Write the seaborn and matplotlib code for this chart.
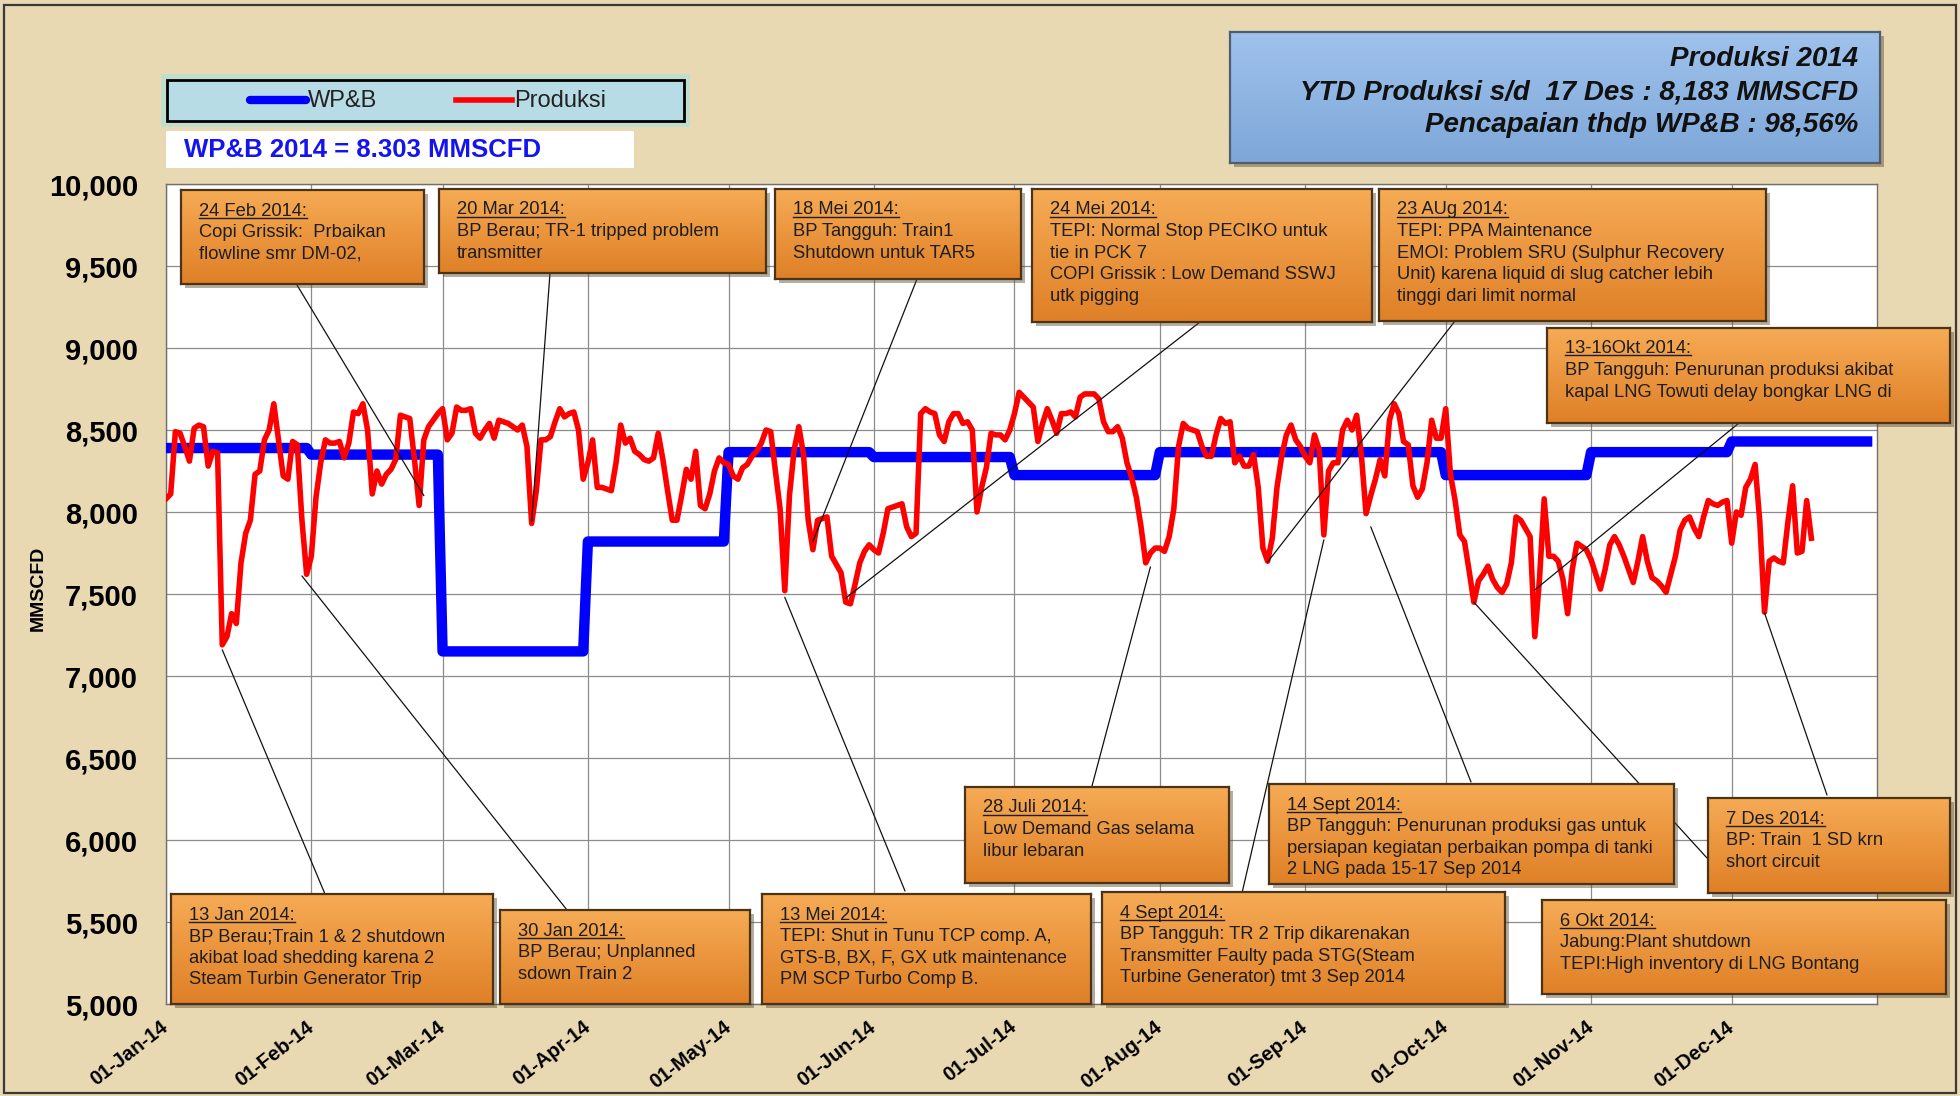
import matplotlib
matplotlib.use("Agg")
import numpy as np
import pandas as pd
import seaborn as sns
import matplotlib.pyplot as plt
import matplotlib.dates as mdates
from matplotlib.patches import Rectangle
from matplotlib.lines import Line2D
from matplotlib.colors import LinearSegmentedColormap
from matplotlib.ticker import FuncFormatter, MultipleLocator

# Produksi harian 2014 (MMSCFD), per bulan
prod_jan = [8080, 8110, 8490, 8480, 8400, 8310, 8510, 8530, 8520, 8280, 8370, 8360, 7190, 7240, 7380, 7320,
            7690, 7870, 7950, 8230, 8250, 8440, 8500, 8660, 8440, 8220, 8200, 8430, 8410, 7950, 7620]
prod_feb = [7730, 8090, 8300, 8440, 8420, 8420, 8430, 8330, 8420, 8610, 8600, 8660, 8500, 8110, 8250, 8170,
            8230, 8260, 8320, 8590, 8580, 8570, 8320, 8040, 8440, 8520, 8560, 8600]
prod_mar = [8630, 8440, 8480, 8640, 8620, 8620, 8630, 8480, 8450, 8500, 8540, 8450, 8560, 8550, 8540, 8520,
            8500, 8530, 8400, 7930, 8130, 8440, 8440, 8460, 8550, 8630, 8580, 8600, 8610, 8500, 8200]
prod_apr = [8300, 8440, 8150, 8150, 8140, 8130, 8300, 8530, 8420, 8450, 8370, 8350, 8320, 8310, 8330, 8480,
            8320, 8130, 7950, 7950, 8100, 8260, 8200, 8370, 8040, 8020, 8110, 8250, 8330, 8300]
prod_may = [8290, 8220, 8200, 8270, 8290, 8340, 8370, 8420, 8500, 8490, 8250, 8020, 7520, 8100, 8380, 8520,
            8350, 7950, 7770, 7950, 7960, 7970, 7730, 7680, 7630, 7450, 7440, 7560, 7690, 7760, 7800]
prod_jun = [7770, 7750, 7870, 8020, 8030, 8040, 8050, 7910, 7850, 7870, 8600, 8630, 8610, 8600, 8470, 8430,
            8550, 8600, 8600, 8540, 8550, 8500, 8000, 8150, 8270, 8480, 8470, 8470, 8440, 8500]
prod_jul = [8600, 8730, 8700, 8670, 8640, 8430, 8540, 8630, 8560, 8480, 8600, 8600, 8610, 8580, 8700, 8720,
            8720, 8720, 8690, 8550, 8490, 8490, 8520, 8450, 8300, 8210, 8090, 7910, 7690, 7750, 7780]
prod_aug = [7780, 7760, 7850, 8020, 8400, 8540, 8510, 8500, 8490, 8400, 8340, 8340, 8470, 8570, 8540, 8550,
            8300, 8340, 8280, 8280, 8350, 8150, 7780, 7700, 7840, 8150, 8340, 8470, 8530, 8440, 8400]
prod_sep = [8340, 8300, 8470, 8380, 7860, 8250, 8300, 8300, 8500, 8560, 8500, 8590, 8350, 7990, 8100, 8200,
            8320, 8220, 8560, 8660, 8600, 8430, 8410, 8160, 8090, 8140, 8300, 8560, 8450, 8450]
prod_oct = [8630, 8230, 8070, 7860, 7820, 7640, 7450, 7580, 7620, 7670, 7590, 7540, 7510, 7560, 7690, 7970,
            7950, 7900, 7850, 7240, 7590, 8080, 7730, 7730, 7700, 7590, 7380, 7650, 7810, 7790, 7770]
prod_nov = [7710, 7620, 7530, 7650, 7800, 7850, 7800, 7730, 7650, 7570, 7700, 7850, 7700, 7600, 7580, 7550,
            7510, 7620, 7730, 7890, 7950, 7970, 7900, 7850, 7970, 8070, 8050, 8040, 8060, 8070]
prod_dec = [7810, 8000, 7980, 8150, 8200, 8290, 7940, 7390, 7700, 7720, 7700, 7690, 7940, 8160, 7750, 7760,
            8070, 7840]

# WP&B 2014 per bulan (MMSCFD)
wpb_bulan = [8390, 8350, 7150, 7820, 8365, 8335, 8225, 8365, 8365, 8225, 8365, 8430]

legend_labels = ["WP&B", "Produksi"]
wpb_teks = "WP&B 2014 = 8.303 MMSCFD"
ringkasan = ["Produksi 2014", "YTD Produksi s/d  17 Des : 8,183 MMSCFD", "Pencapaian thdp WP&B : 98,56%"]

# catatan: (kotak x0, y0, x1, y1 dlm piksel), titik awal garis, tanggal & nilai target, teks
catatan = [
    ((181, 190, 424, 284), (297, 285), "2014-02-25", 8100, ["24 Feb 2014:", "Copi Grissik:  Prbaikan", "flowline smr DM-02,"]),
    ((439, 189, 766, 273), (550, 273), "2014-03-20", 7940, ["20 Mar 2014:", "BP Berau; TR-1 tripped problem", "transmitter"]),
    ((775, 189, 1021, 279), (917, 279), "2014-05-19", 7820, ["18 Mei 2014:", "BP Tangguh: Train1", "Shutdown untuk TAR5"]),
    ((1032, 189, 1372, 322), (1200, 322), "2014-05-26", 7475, ["24 Mei 2014:", "TEPI: Normal Stop PECIKO untuk", "tie in PCK 7",
                                                               "COPI Grissik : Low Demand SSWJ", "utk pigging"]),
    ((1379, 189, 1766, 321), (1455, 321), "2014-08-24", 7695, ["23 AUg 2014:", "TEPI: PPA Maintenance",
                                                               "EMOI: Problem SRU (Sulphur Recovery",
                                                               "Unit) karena liquid di slug catcher lebih",
                                                               "tinggi dari limit normal"]),
    ((1547, 328, 1950, 423), (1739, 423), "2014-10-20", 7525, ["13-16Okt 2014:", "BP Tangguh: Penurunan produksi akibat",
                                                               "kapal LNG Towuti delay bongkar LNG di"]),
    ((171, 894, 493, 1004), (325, 894), "2014-01-13", 7160, ["13 Jan 2014:", "BP Berau;Train 1 & 2 shutdown",
                                                             "akibat load shedding karena 2", "Steam Turbin Generator Trip"]),
    ((500, 910, 750, 1004), (567, 910), "2014-01-30", 7610, ["30 Jan 2014:", "BP Berau; Unplanned", "sdown Train 2"]),
    ((762, 894, 1091, 1004), (905, 891), "2014-05-13", 7480, ["13 Mei 2014:", "TEPI: Shut in Tunu TCP comp. A,",
                                                              "GTS-B, BX, F, GX utk maintenance", "PM SCP Turbo Comp B."]),
    ((965, 787, 1229, 883), (1092, 786), "2014-07-30", 7665, ["28 Juli 2014:", "Low Demand Gas selama", "libur lebaran"]),
    ((1102, 892, 1505, 1004), (1242, 893), "2014-09-05", 7830, ["4 Sept 2014:", "BP Tangguh: TR 2 Trip dikarenakan",
                                                                "Transmitter Faulty pada STG(Steam",
                                                                "Turbine Generator) tmt 3 Sep 2014"]),
    ((1269, 784, 1674, 884), (1471, 782), "2014-09-15", 7910, ["14 Sept 2014:", "BP Tangguh: Penurunan produksi gas untuk",
                                                               "persiapan kegiatan perbaikan pompa di tanki",
                                                               "2 LNG pada 15-17 Sep 2014"]),
    ((1542, 900, 1946, 994), (1707, 858), "2014-10-07", 7450, ["6 Okt 2014:", "Jabung:Plant shutdown",
                                                               "TEPI:High inventory di LNG Bontang"]),
    ((1708, 798, 1950, 893), (1827, 795), "2014-12-08", 7385, ["7 Des 2014:", "BP: Train  1 SD krn", "short circuit"]),
]

W, H = 1960, 1096
BG = "#e9d9b3"
plt.rcParams["font.family"] = ["Liberation Sans", "DejaVu Sans"]
NARROW = ["Liberation Sans Narrow", "Liberation Sans", "DejaVu Sans"]


def fx(px):
    return px / W


def fy(py):
    return 1 - py / H


produksi = prod_jan + prod_feb + prod_mar + prod_apr + prod_may + prod_jun + \
    prod_jul + prod_aug + prod_sep + prod_oct + prod_nov + prod_dec
df_prod = pd.DataFrame({"tanggal": pd.date_range("2014-01-01", periods=len(produksi), freq="D"),
                        "nilai": produksi})
hari = pd.date_range("2014-01-01", "2014-12-31", freq="D")
df_wpb = pd.DataFrame({"tanggal": hari, "nilai": [wpb_bulan[d.month - 1] for d in hari]})

fig = plt.figure(figsize=(W / 100, H / 100), dpi=100, facecolor=BG)
ax = fig.add_axes([fx(166), fy(1004), (1877 - 166) / W, (1004 - 184) / H])
ax.set_facecolor("white")

sns.lineplot(data=df_wpb, x="tanggal", y="nilai", ax=ax, color="#0000ff", lw=7.5,
             solid_joinstyle="round", solid_capstyle="butt", zorder=3)
sns.lineplot(data=df_prod, x="tanggal", y="nilai", ax=ax, color="#ff0000", lw=4,
             solid_joinstyle="round", zorder=4)

ax.set_xlim(pd.Timestamp("2014-01-01"), pd.Timestamp("2015-01-01"))
ax.set_ylim(5000, 10000)
ax.yaxis.set_major_locator(MultipleLocator(500))
ax.yaxis.set_major_formatter(FuncFormatter(lambda v, p: f"{int(v):,}"))
ax.set_xticks(pd.date_range("2014-01-01", "2014-12-01", freq="MS"))
ax.xaxis.set_major_formatter(mdates.DateFormatter("%d-%b-%y"))
ax.grid(True, color="#8c8c8c", lw=0.9)
ax.set_axisbelow(True)
ax.set_xlabel("")
ax.set_ylabel("")
for s in ax.spines.values():
    s.set_color("#707070")
    s.set_linewidth(1)
ax.tick_params(axis="y", length=0, pad=20, labelsize=21)
ax.tick_params(axis="x", length=0, pad=15, labelsize=14.5)
for t in ax.get_yticklabels():
    t.set_fontweight("bold")
for t in ax.get_xticklabels():
    t.set_fontweight("bold")
    t.set_rotation(38)
    t.set_ha("right")
    t.set_va("center")
    t.set_rotation_mode("anchor")

fig.text(fx(38), fy(588), "MMSCFD", rotation=90, ha="center", va="center", fontsize=14, fontweight="bold")

# bingkai halaman
fig.patches.append(Rectangle((fx(4), fy(1093)), (1952) / W, (1088) / H, transform=fig.transFigure,
                             fill=False, ec="#3a3a3a", lw=1.6, zorder=20))

# legenda
fig.patches.append(Rectangle((fx(161), fy(127)), 529 / W, 53 / H, transform=fig.transFigure,
                             fc="#a8e0e0", ec="none", alpha=0.6, zorder=1))
fig.patches.append(Rectangle((fx(167), fy(121)), 517 / W, 41 / H, transform=fig.transFigure,
                             fc="#b8dce6", ec="black", lw=2, zorder=2))
fig.lines.append(Line2D([fx(250), fx(306)], [fy(100), fy(100)], transform=fig.transFigure,
                        color="#0000ff", lw=6, solid_capstyle="round", zorder=3))
fig.lines.append(Line2D([fx(456), fx(512)], [fy(100), fy(100)], transform=fig.transFigure,
                        color="#ff0000", lw=4, zorder=3))
fig.text(fx(308), fy(101), legend_labels[0], fontsize=17, va="center", ha="left", zorder=4, color="#222222")
fig.text(fx(514), fy(101), legend_labels[1], fontsize=17, va="center", ha="left", zorder=4, color="#222222")

# kotak WP&B
fig.patches.append(Rectangle((fx(166), fy(168)), 468 / W, 37 / H, transform=fig.transFigure,
                             fc="white", ec="none", zorder=2))
fig.text(fx(184), fy(150), wpb_teks, fontsize=18.5, fontweight="bold", color="#1414f0",
         va="center", ha="left", zorder=4)


def gradien_box(x0, y0, x1, y1, c_atas, c_bawah, tepi, z):
    fig.patches.append(Rectangle((fx(x0 + 4), fy(y1 + 4)), (x1 - x0) / W, (y1 - y0) / H,
                                 transform=fig.transFigure, fc="#5a4a30", ec="none", alpha=0.45, zorder=z - 1))
    bax = fig.add_axes([fx(x0), fy(y1), (x1 - x0) / W, (y1 - y0) / H])
    cmap = LinearSegmentedColormap.from_list("g", [c_atas, c_bawah])
    bax.imshow(np.linspace(0, 1, 64).reshape(-1, 1), aspect="auto", cmap=cmap, extent=[0, 1, 0, 1])
    bax.set_xticks([])
    bax.set_yticks([])
    for s in bax.spines.values():
        s.set_color(tepi)
        s.set_linewidth(1.6)
    bax.set_zorder(z)
    return bax


# kotak ringkasan kanan atas
gradien_box(1230, 32, 1880, 163, "#9fc2ec", "#7ea7d8", "#4e5d70", 6)
for i, (teks, yy) in enumerate(zip(ringkasan, [59, 92, 125])):
    fig.text(fx(1858), fy(yy), teks, family=NARROW, fontsize=20, fontweight="bold", style="italic",
             ha="right", va="center", zorder=8, color="#111111")

# catatan kejadian
judul_teks = []
for (x0, y0, x1, y1), (sx, sy), tgl, nilai, baris in catatan:
    ax.annotate("", xy=(mdates.date2num(pd.Timestamp(tgl)), nilai), xycoords="data",
                xytext=(fx(sx), fy(sy)), textcoords="figure fraction", annotation_clip=False,
                arrowprops=dict(arrowstyle="-", color="#111111", lw=0.9, shrinkA=0, shrinkB=0), zorder=6)
    gradien_box(x0, y0, x1, y1, "#f6ab55", "#df8027", "#4a3318", 6)
    for j, b in enumerate(baris):
        t = fig.text(fx(x0 + 18), fy(y0 + 21 + 21.6 * j), b, fontsize=13.2, ha="left", va="center",
                     color="#1e1e1e", zorder=8)
        if j == 0:
            judul_teks.append(t)

# garis bawah judul tanggal
fig.canvas.draw()
for t in judul_teks:
    bb = t.get_window_extent()
    fig.lines.append(Line2D([bb.x0 / W, bb.x1 / W], [(bb.y0 + 2) / H, (bb.y0 + 2) / H],
                            transform=fig.transFigure, color="#1e1e1e", lw=1, zorder=9))

fig.savefig("out.png", dpi=100, facecolor=BG)
